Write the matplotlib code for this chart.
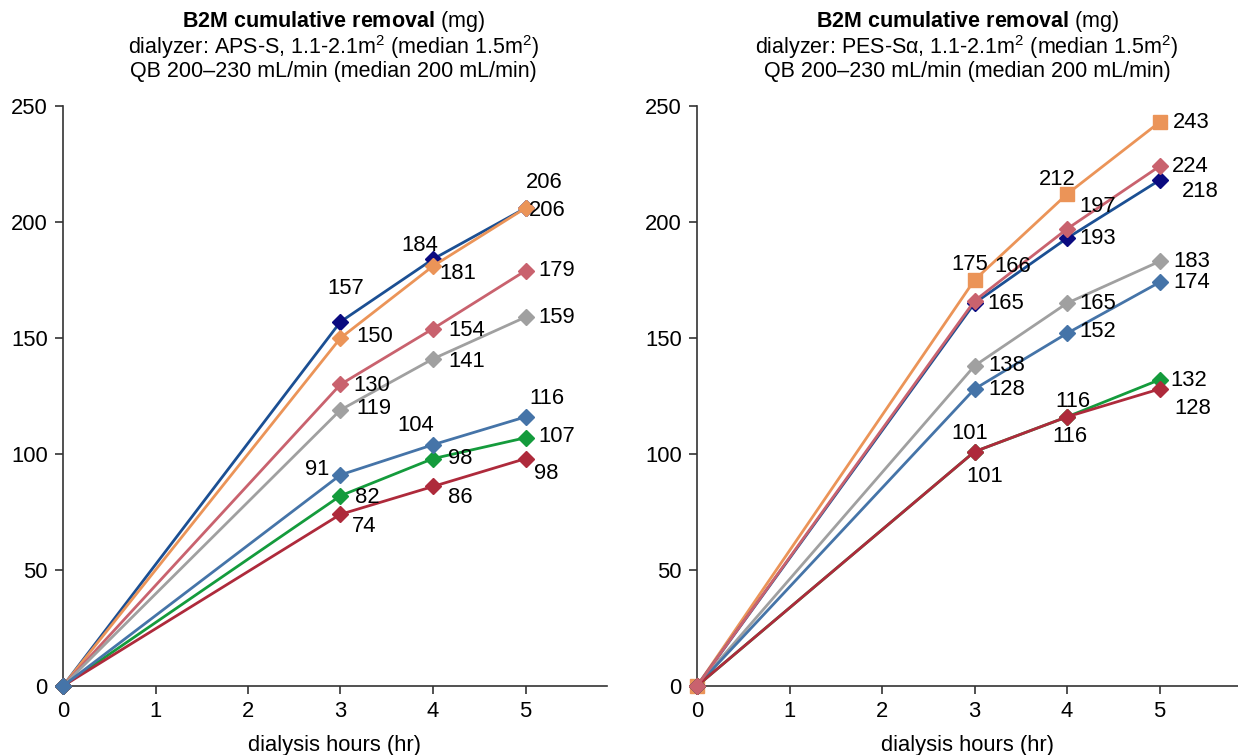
import matplotlib
matplotlib.use("Agg")
import matplotlib.pyplot as plt

plt.rcParams['font.family'] = ['Liberation Sans', 'DejaVu Sans']
plt.rcParams['mathtext.fontset'] = 'custom'
plt.rcParams['mathtext.rm'] = 'Liberation Sans'
plt.rcParams['mathtext.it'] = 'Liberation Sans:italic'
plt.rcParams['mathtext.bf'] = 'Liberation Sans:bold'

# ---------------- data ----------------
hours = [0, 3, 4, 5]

# left panel: APS-S
aps_navy = [0, 157, 184, 206]
aps_orange = [0, 150, 181, 206]
aps_pink = [0, 130, 154, 179]
aps_gray = [0, 119, 141, 159]
aps_blue = [0, 91, 104, 116]
aps_green = [0, 82, 98, 107]
aps_red = [0, 74, 86, 98]

# right panel: PES-Sα
pes_orange = [0, 175, 212, 243]
pes_pink = [0, 166, 197, 224]
pes_navy = [0, 165, 193, 218]
pes_gray = [0, 138, 165, 183]
pes_blue = [0, 128, 152, 174]
pes_green = [0, 101, 116, 132]
pes_red = [0, 101, 116, 128]

x_ticks = [0, 1, 2, 3, 4, 5]
y_ticks = [0, 50, 100, 150, 200, 250]

# ---------------- styles ----------------
C_NAVY_L, C_NAVY_M = '#1B4F93', '#0A0A80'
C_ORANGE = '#EB9458'
C_PINK = '#C9626E'
C_GRAY = '#A0A0A0'
C_BLUE = '#4574A8'
C_GREEN = '#149B3C'
C_RED = '#AE2A3B'

# label offsets (pixels) for points at hours 3,4,5
left_series = [
    (aps_navy, C_NAVY_L, C_NAVY_M, 'D', [(5, 33), (-13, 14), (19, 26)]),
    (aps_orange, C_ORANGE, C_ORANGE, 'D', [(34, 2), (25, -7), (22, -2)]),
    (aps_pink, C_PINK, C_PINK, 'D', [(31, -1), (34, -2), (31, 0)]),
    (aps_gray, C_GRAY, C_GRAY, 'D', [(33, 1), (34, -3), (31, 0)]),
    (aps_green, C_GREEN, C_GREEN, 'D', [(27, -2), (27, 0), (31, 1)]),
    (aps_red, C_RED, C_RED, 'D', [(24, -12), (27, -11), (21, -15)]),
    (aps_blue, C_BLUE, C_BLUE, 'D', [(-23, 5), (-17, 19), (21, 18)]),
]

right_series = [
    (pes_orange, C_ORANGE, C_ORANGE, 's', [(-5, 15), (-10, 15), (32, 0)]),
    (pes_navy, C_NAVY_L, C_NAVY_M, 'D', [(31, 0), (31, 0), (41, -11)]),
    (pes_gray, C_GRAY, C_GRAY, 'D', [(32, 0), (31, 0), (32, 0)]),
    (pes_blue, C_BLUE, C_BLUE, 'D', [(32, 0), (31, 2), (32, 0)]),
    (pes_green, C_GREEN, C_GREEN, 'D', [(-5, 18), (6, 15), (29, -1)]),
    (pes_red, C_RED, C_RED, 'D', [(10, -25), (3, -20), (33, -19)]),
    (pes_pink, C_PINK, C_PINK, 'D', [(38, 34), (31, 22), (31, 0)]),
]

W, H = 1238, 755
fig = plt.figure(figsize=(W / 100, H / 100), dpi=100)

y0_px, y250_px = 686, 106
ax_bottom = (H - y0_px) / H
ax_height = (y0_px - y250_px) / H
unit = 92.5

axL = fig.add_axes([63 / W, ax_bottom, (607 - 63) / W, ax_height])
axR = fig.add_axes([697 / W, ax_bottom, (1238 - 697) / W, ax_height])

FS = 15.8
TFS = 15.5


def draw(ax, series, xmax):
    for i, (vals, lc, mc, mk, offs) in enumerate(series):
        ms = 8 if mk == 'D' else 9.5
        ax.plot(hours, vals, color=lc, lw=2.0, marker=mk, ms=ms,
                mfc=mc, mec=mc, zorder=3 + i, clip_on=False)
        for xv, yv, (dx, dy) in zip(hours[1:], vals[1:], offs):
            ax.annotate(str(yv), (xv, yv), xytext=(dx, dy),
                        textcoords='offset pixels', ha='center', va='center',
                        fontsize=FS, color='black', zorder=20)
    ax.set_xlim(0, xmax)
    ax.set_ylim(0, 250)
    ax.set_xticks(x_ticks)
    ax.set_yticks(y_ticks)
    for s in ['top', 'right']:
        ax.spines[s].set_visible(False)
    for s in ['left', 'bottom']:
        ax.spines[s].set_color('#333333')
        ax.spines[s].set_linewidth(1.2)
    ax.tick_params(axis='both', direction='out', length=6, width=1.2,
                   color='#333333', labelsize=FS, pad=5)
    ax.set_xlabel('dialysis hours (hr)', fontsize=FS, labelpad=9)


draw(axL, left_series, (607 - 63) / unit)
draw(axR, right_series, (1238 - 697) / unit)

titles = [
    (333, 'dialyzer: APS-S, 1.1-2.1m$^{2}$ (median 1.5m$^{2}$)'),
    (967, 'dialyzer: PES-Sα, 1.1-2.1m$^{2}$ (median 1.5m$^{2}$)'),
]
for cx, line2 in titles:
    fig.text(cx / W, 1 - 22 / H, r'$\mathbf{B2M\ cumulative\ removal}$ (mg)',
             ha='center', va='center', fontsize=TFS)
    fig.text(cx / W, 1 - 47 / H, line2, ha='center', va='center', fontsize=TFS)
    fig.text(cx / W, 1 - 72 / H, 'QB 200–230 mL/min (median 200 mL/min)',
             ha='center', va='center', fontsize=TFS)

fig.savefig('out.png', dpi=100)
